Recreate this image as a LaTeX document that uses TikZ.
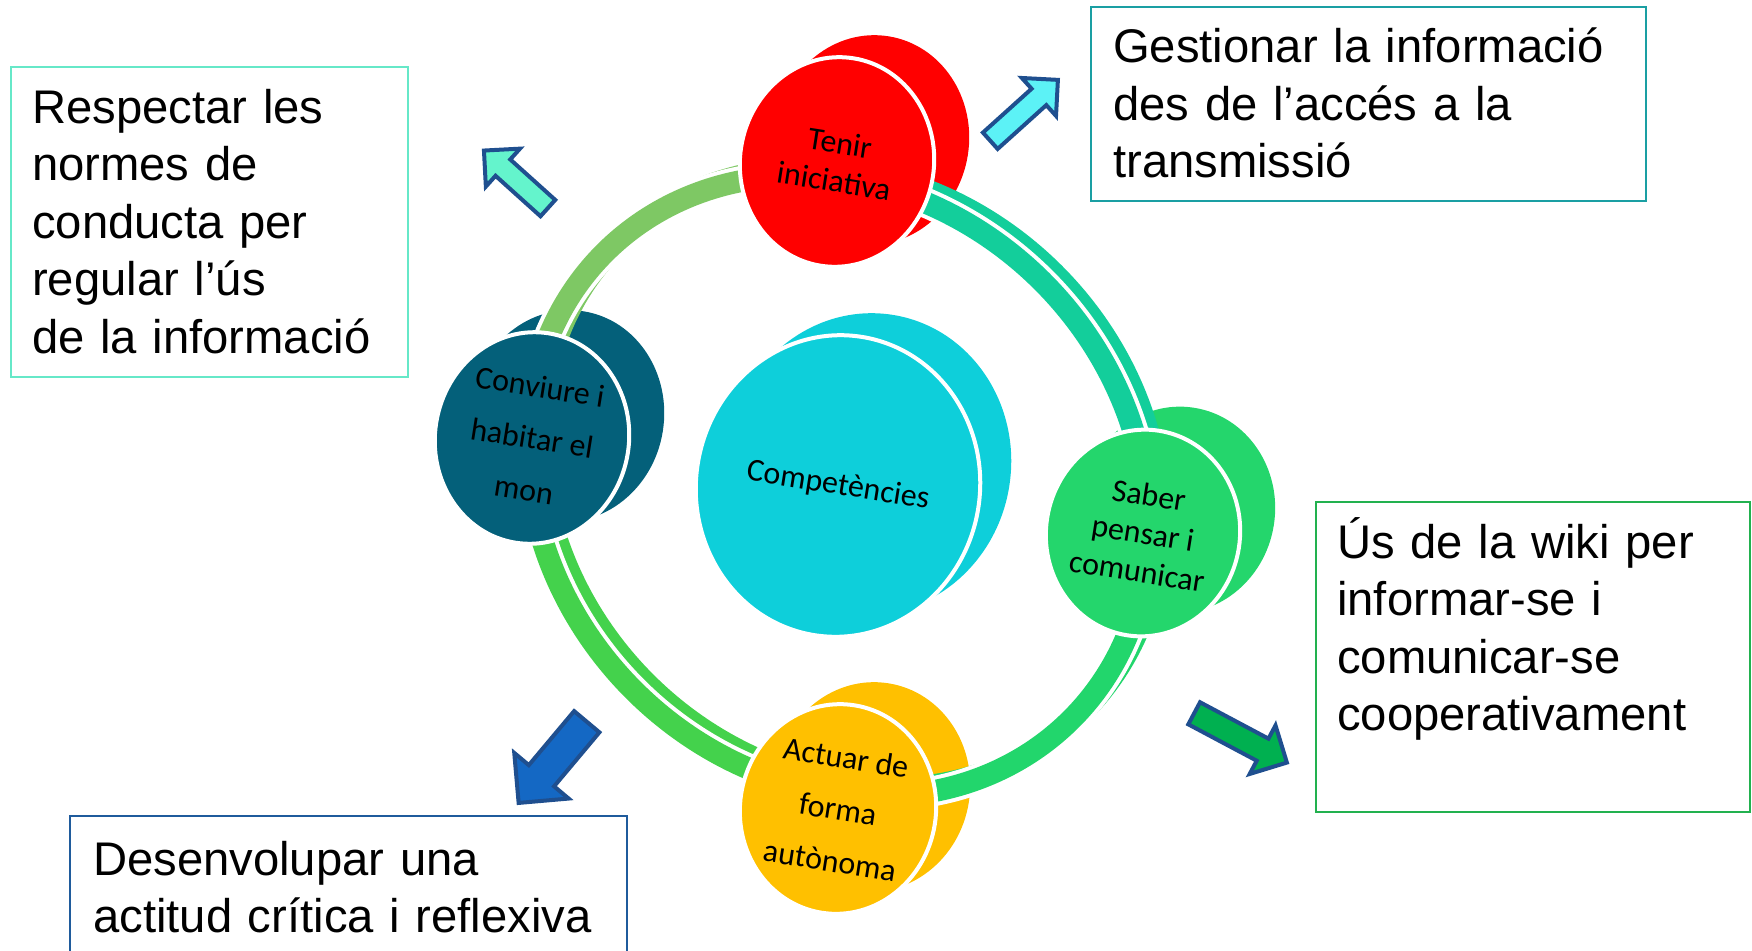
\documentclass[tikz,border=0pt]{standalone}
\usepackage{fontspec}
\setmainfont{Liberation Sans}
\newfontfamily\calibri{Carlito}
\usetikzlibrary{shapes.geometric, shapes.arrows}

\definecolor{tenircol}{HTML}{FF0000}
\definecolor{compcol}{HTML}{0ECFDA}
\definecolor{convcol}{HTML}{04607A}
\definecolor{sabercol}{HTML}{24D66C}
\definecolor{actuarcol}{HTML}{FFC000}
\definecolor{arcnw}{HTML}{7EC864}
\definecolor{arcne}{HTML}{13CE9B}
\definecolor{arcse}{HTML}{22D66C}
\definecolor{arcsw}{HTML}{44D24C}
\definecolor{arrowline}{HTML}{1F4F8F}
\definecolor{arrownw}{HTML}{64F4CC}
\definecolor{arrowne}{HTML}{5CF2F6}
\definecolor{arrowsw}{HTML}{1468C4}
\definecolor{arrowse}{HTML}{00B050}
\definecolor{boxnw}{HTML}{66E8C8}
\definecolor{boxne}{HTML}{1A9FA3}
\definecolor{boxse}{HTML}{22B14F}
\definecolor{boxsw}{HTML}{1F5B9C}

\tikzset{
  disc/.style={ellipse, inner sep=0pt, rotate=-9, align=center,
    font=\calibri\fontsize{32}{38.5}\selectfont},
  widelines/.style={font=\calibri\fontsize{32}{52}\selectfont},
  frontdisc/.style={disc, draw=white, line width=4pt},
  band/.style={line width=22pt, line cap=butt},
  bandedge/.style={line width=30pt, line cap=butt, white},
  blockarrow/.style={single arrow, single arrow tip angle=90, draw=arrowline, line width=4pt},
  boxtext/.style={anchor=base west, inner sep=0pt, text width=#1, align=left,
    font=\fontsize{47.2}{57.5}\selectfont},
  boxline/.style={draw=#1, line width=2.5pt},
}

\begin{document}
\begin{tikzpicture}[x=1pt, y=-1pt]
  \useasboundingbox (0,0) rectangle (1752,950);

  % back side of the discs
  \node[disc, fill=tenircol, minimum width=194pt, minimum height=210pt] (tenirb) at (872,140) {};
  \node[disc, fill=compcol, minimum width=284pt, minimum height=302pt] (compb) at (869,464) {};
  \node[disc, fill=convcol, minimum width=194pt, minimum height=212pt] (convb) at (567,416) {};
  \node[disc, fill=sabercol, minimum width=194pt, minimum height=207pt] (saberb) at (1178,510) {};
  \node[disc, fill=actuarcol, minimum width=196pt, minimum height=210pt] (actuarb) at (872,787) {};

  % ring, back strands
  \begin{scope}[shift={(850,478)}, rotate=-45]
    \draw[band, arcne] (39.7:330pt and 289pt) arc[start angle=39.7, end angle=131.2, x radius=330pt, y radius=289pt];
    \draw[band, arcnw] (131.2:330pt and 289pt) arc[start angle=131.2, end angle=219.7, x radius=330pt, y radius=289pt];
    \draw[band, arcsw] (219.7:330pt and 289pt) arc[start angle=219.7, end angle=311.2, x radius=330pt, y radius=289pt];
    \draw[band, arcse] (-48.8:330pt and 289pt) arc[start angle=-48.8, end angle=39.7, x radius=330pt, y radius=289pt];
  \end{scope}

  % ring, front bands
  \begin{scope}[shift={(838,486)}, rotate=-45]
    \foreach \a/\b/\c in {39.7/131.2/arcne, 131.2/219.7/arcnw, 219.7/311.2/arcsw, -48.8/39.7/arcse}{
      \draw[bandedge] (\a:330pt and 289pt) arc[start angle=\a, end angle=\b, x radius=330pt, y radius=289pt];
      \draw[band, \c] (\a:330pt and 289pt) arc[start angle=\a, end angle=\b, x radius=330pt, y radius=289pt];
    }
  \end{scope}

  % front of the discs
  \node[frontdisc, fill=tenircol, minimum width=194pt, minimum height=210pt] (tenir) at (837,162) {Tenir\\iniciativa};
  \node[frontdisc, fill=compcol, minimum width=284pt, minimum height=302pt] (comp) at (838,486) {Competències};
  \node[frontdisc, widelines, fill=convcol, minimum width=194pt, minimum height=212pt] (conv) at (532,438) {Conviure i\\habitar el\\mon};
  \node[frontdisc, fill=sabercol, minimum width=194pt, minimum height=207pt] (saber) at (1143,533) {Saber\\pensar i\\comunicar};
  \node[frontdisc, widelines, fill=actuarcol, minimum width=196pt, minimum height=210pt] (actuar) at (838,809) {Actuar de\\forma\\autònoma};

  % block arrows
  \node[blockarrow, fill=arrownw, inner sep=9pt, single arrow head extend=14.5pt, minimum height=86pt, rotate=138] (arrnw) at (520,183) {};
  \node[blockarrow, fill=arrowne, inner sep=9pt, single arrow head extend=14.5pt, minimum height=91pt, rotate=42] (arrne) at (1020,114) {};
  \node[blockarrow, fill=arrowsw, inner sep=14.5pt, single arrow head extend=19pt, minimum height=106pt, rotate=230] (arrsw) at (558,756) {};
  \node[blockarrow, fill=arrowse, inner sep=10.5pt, single arrow head extend=15pt, minimum height=105pt, rotate=-28] (arrse) at (1235,735) {};

  % text boxes
  \draw[boxline=boxnw] (11,67) rectangle (408,377);
  \node[boxtext=360pt] (respectar) at (32,123) {Respectar les\\normes de\\conducta per\\regular l’ús\\de la informació};
  \draw[boxline=boxne] (1091,7) rectangle (1646,201);
  \node[boxtext=520pt] (gestionar) at (1113,63) {Gestionar la informació\\des de l’accés a la\\transmissió};
  \draw[boxline=boxse] (1316,502) rectangle (1750,812);
  \node[boxtext=400pt] (wiki) at (1337,558) {Ús de la wiki per\\informar-se i\\comunicar-se\\cooperativament};
  \draw[boxline=boxsw] (70,816) rectangle (627,960);
  \node[boxtext=530pt] (desenvolupar) at (93,875) {Desenvolupar una\\actitud crítica i reflexiva};
\end{tikzpicture}
\end{document}
